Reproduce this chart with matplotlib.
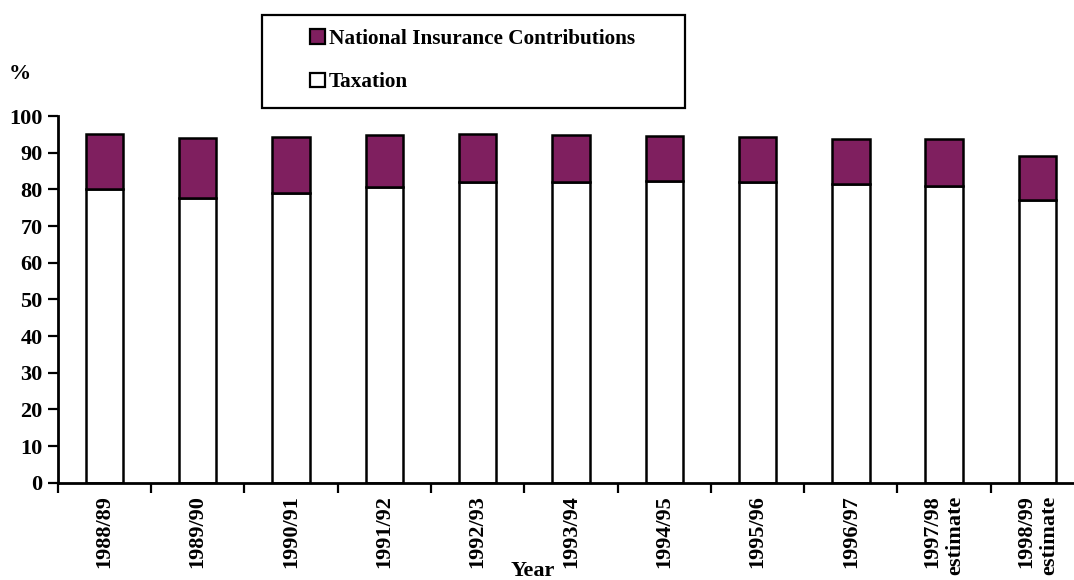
import matplotlib.pyplot as plt
from matplotlib.patches import Patch, Rectangle

# Data (% of total)
years = ["1988/89", "1989/90", "1990/91", "1991/92", "1992/93", "1993/94",
         "1994/95", "1995/96", "1996/97", "1997/98\nestimate", "1998/99\nestimate"]
taxation = [80.2, 77.6, 78.9, 80.7, 81.9, 82.1, 82.4, 82.1, 81.5, 80.8, 77.0]
nic = [14.9, 16.5, 15.5, 14.0, 13.2, 12.7, 12.1, 12.3, 12.2, 12.8, 12.2]

plt.rcParams['font.family'] = ['Liberation Serif', 'DejaVu Serif']
plt.rcParams['font.weight'] = 'bold'
FS = 16
FS_LEG = 15.3
PURPLE = '#7f1f5f'

W, H = 1074, 580
fig = plt.figure(figsize=(W / 100, H / 100), dpi=100)

left_px, bottom_px, top_px = 57.8, 482.7, 116.0
step = 93.3
ax = fig.add_axes([left_px / W, (H - bottom_px) / H, 1 - left_px / W,
                   (bottom_px - top_px) / H])

x = list(range(len(years)))
ax.bar(x, taxation, width=0.4, color='white', edgecolor='black', linewidth=1.8,
       label='Taxation', zorder=2)
ax.bar(x, nic, bottom=taxation, width=0.4, color=PURPLE, edgecolor='black',
       linewidth=1.8, label='National Insurance Contributions', zorder=2)

ax.set_xlim(-0.5, -0.5 + (W - left_px) / step)
ax.set_ylim(0, 100)
ax.set_yticks(range(0, 101, 10))
ax.set_yticklabels([str(v) for v in range(0, 101, 10)], fontsize=FS, fontweight='bold')

# boundary ticks between categories, labels centred under bars
ax.set_xticks([i - 0.5 for i in range(len(years))])
ax.set_xticklabels([])
ax.set_xticks(x, minor=True)
ax.set_xticklabels(years, minor=True, rotation=90, fontsize=FS, fontweight='bold',
                   va='top', ha='center', multialignment='right')
ax.tick_params(axis='x', which='minor', length=0, pad=9)
ax.tick_params(axis='x', which='major', direction='out', length=7, width=1.6)
ax.tick_params(axis='y', direction='out', length=7, width=1.6, pad=4)

for s in ['top', 'right']:
    ax.spines[s].set_visible(False)
for s in ['left', 'bottom']:
    ax.spines[s].set_linewidth(2)

fig.text(533 / W, 1 - 571 / H, "Year", ha='center', va='center',
         fontsize=FS, fontweight='bold')
fig.text(20 / W, 1 - 74 / H, "%", ha='center', va='center',
         fontsize=FS, fontweight='bold')

# legend box
fig.add_artist(Rectangle((262 / W, 1 - 108 / H), (685 - 262) / W, (108 - 15) / H,
                         transform=fig.transFigure, fill=False,
                         edgecolor='black', linewidth=1.6))
handles = [Patch(facecolor=PURPLE, edgecolor='black', linewidth=1.6),
           Patch(facecolor='white', edgecolor='black', linewidth=1.6)]
fig.legend(handles, ['National Insurance Contributions', 'Taxation'],
           loc='upper left', bbox_to_anchor=(310 / W, 1 - 29 / H),
           frameon=False, prop={'size': FS_LEG, 'weight': 'bold'},
           handlelength=0.7, handleheight=0.7, handletextpad=0.2,
           labelspacing=1.1, borderaxespad=0, borderpad=0)

fig.savefig("out.png", dpi=100)
